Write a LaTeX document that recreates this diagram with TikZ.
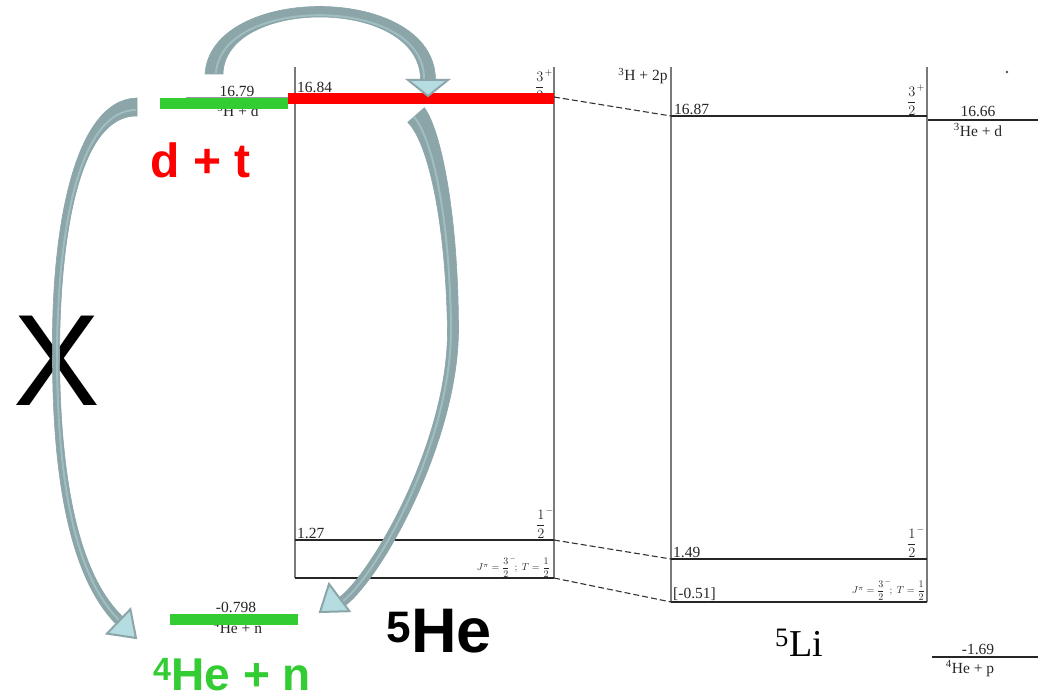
\documentclass[tikz,border=0pt]{standalone}
\usepackage{fontspec}
\setmainfont{Liberation Serif}
\newfontfamily\arialf{Liberation Sans}
\definecolor{arrdark}{HTML}{8BA5A9}
\definecolor{arrhi}{HTML}{A0BEC1}
\definecolor{arrlight}{HTML}{B5DCE1}
\definecolor{lvgreen}{HTML}{33CC33}
\definecolor{lvred}{HTML}{FF0000}
\definecolor{wallgray}{HTML}{7A7A7A}
\tikzset{
 lvl/.style={line width=1.3pt, draw=black!85},
 wall/.style={line width=1.1pt, draw=wallgray},
 dashconn/.style={line width=1.1pt, draw=black!80, dash pattern=on 6pt off 3pt},
 num/.style={font=\fontsize{15.5}{15.5}\selectfont, text=black!85, inner sep=0pt},
 fr/.style={font=\fontsize{14}{14}\selectfont, text=black!85, inner sep=0pt},
 jp/.style={font=\fontsize{10}{10}\selectfont, text=black!85, inner sep=0pt},
 bar/.style={line width=11.5pt},
 big/.style={inner sep=0pt, font=\arialf\bfseries\fontsize{48}{48}\selectfont},
 shaft/.style={fill=arrdark, draw=arrdark, line width=0.6pt},
 hil/.style={draw=arrhi, line width=2pt},
 head/.style={fill=arrlight, draw=arrdark, line width=2pt, line join=miter},
}
\begin{document}
\begin{tikzpicture}[x=1pt,y=-1pt]
\useasboundingbox[fill=white] (0,0) rectangle (1041,698);

% ---------------- level diagram (cropped at the top) ----------------
\begin{scope}
\clip (280,68) rectangle (1041,698);
% 5He frame
\coordinate (heTL) at (295,60);   \coordinate (heTR) at (554,60);
\coordinate (heTopL) at (288,97); \coordinate (heTopR) at (554,97);
\coordinate (heMidL) at (295,540); \coordinate (heMidR) at (554,540);
\coordinate (heBotL) at (295,578); \coordinate (heBotR) at (554,578);
\draw[wall] (heTL) -- (heBotL);
\draw[wall] (heTR) -- (heBotR);
\draw[lvl] (heTopL) -- (heTopR);
\draw[lvl] (heMidL) -- (heMidR);
\draw[lvl] (heBotL) -- (heBotR);
% 5Li frame
\coordinate (liTL) at (671,60);   \coordinate (liTR) at (927,60);
\coordinate (liTopL) at (671,116); \coordinate (liTopR) at (927,116);
\coordinate (liMidL) at (671,559); \coordinate (liMidR) at (927,559);
\coordinate (liBotL) at (671,602); \coordinate (liBotR) at (927,602);
\draw[wall] (liTL) -- (liBotL);
\draw[wall] (liTR) -- (liBotR);
\draw[lvl] (liTopL) -- (liTopR);
\draw[lvl] (liMidL) -- (liMidR);
\draw[lvl] (liBotL) -- (liBotR);
% dashed correspondences
\draw[dashconn] (heTopR) -- (liTopL);
\draw[dashconn] (heMidR) -- (liMidL);
\draw[dashconn] (heBotR) -- (liBotL);
% thresholds on the right
\coordinate (hedL) at (928,120); \coordinate (hedR) at (1038,120);
\draw[lvl] (hedL) -- (hedR);
\coordinate (hepL) at (932,657); \coordinate (hepR) at (1038,657);
\draw[lvl] (hepL) -- (hepR);
\fill[black!70] (1007,72) circle (1.3pt);

% labels
\node[num, anchor=base west] (n1684) at (297,93) {16.84};
\node[fr, anchor=south east] (f5heTop) at (553,101) {$\displaystyle\frac{3}{2}^{+}$};
\node[num, anchor=base] (n3h2p) at (643,81) {\textsuperscript{3}H + 2p};
\node[num, anchor=base west] (n127) at (297,538) {1.27};
\node[fr, anchor=south east] (f5heMid) at (554,539) {$\displaystyle\frac{1}{2}^{-}$};
\node[jp, anchor=south east] (j5he) at (550,578) {$J^{\pi}=\displaystyle\frac{3}{2}^{-}\!;\;T=\frac{1}{2}$};
\node[num, anchor=base west] (n1687) at (674,115) {16.87};
\node[fr, anchor=south east] (f5liTop) at (925,116) {$\displaystyle\frac{3}{2}^{+}$};
\node[num, anchor=base west] (n149) at (673,557) {1.49};
\node[fr, anchor=south east] (f5liMid) at (925,558) {$\displaystyle\frac{1}{2}^{-}$};
\node[num, anchor=base west] (n051) at (673,598) {[-0.51]};
\node[jp, anchor=south east] (j5li) at (925,601) {$J^{\pi}=\displaystyle\frac{3}{2}^{-}\!;\;T=\frac{1}{2}$};
\node[num, anchor=base] (n1666) at (978,117) {16.66};
\node[num, anchor=base] (n3hed) at (978,136) {\textsuperscript{3}He + d};
\node[num, anchor=base] (n169) at (978,654) {-1.69};
\node[num, anchor=base] (n4hep) at (970,673) {\textsuperscript{4}He + p};
\node[inner sep=0pt, anchor=base, font=\fontsize{38}{38}\selectfont] (li5) at (799,656) {\textsuperscript{5}Li};
\end{scope}

% ---------------- left thresholds ----------------
\draw[black!40, line width=0.8pt] (186,97.5) -- (288,97.5);
\node[num, anchor=base] (n1679) at (237,96.5) {16.79};
\node[num, anchor=base] (n3hd) at (238,117) {\textsuperscript{3}H + d};
\node[num, anchor=base] (n0798) at (236,612) {-0.798};
\node[num, anchor=base] (n4hen) at (238,633) {\textsuperscript{4}He + n};

\coordinate (gTopL) at (160,103.5); \coordinate (gTopR) at (288,103.5);
\coordinate (rTopL) at (288,98.5);  \coordinate (rTopR) at (554,98.5);
\coordinate (gBotL) at (170,619.5); \coordinate (gBotR) at (298,619.5);
\draw[bar, lvgreen] (gTopL) -- (gTopR);
\draw[bar, lvred] (rTopL) -- (rTopR);
\draw[bar, lvgreen] (gBotL) -- (gBotR);

% ---------------- big labels ----------------
\node[big, text=lvred, anchor=base] (dt) at (201,177) {d + t};
\node[big, text=lvgreen, anchor=base, font=\arialf\bfseries\fontsize{46}{46}\selectfont] (hen) at (232,690) {\textsuperscript{4}He + n};
\node[big, text=black, anchor=base, font=\arialf\bfseries\fontsize{63}{63}\selectfont] (he5) at (439,652) {\textsuperscript{5}He};
\node[inner sep=0pt, anchor=base, font=\arialf\fontsize{130}{130}\selectfont] (xx) at (57,405) {X};

% ---------------- curved block arrows ----------------
% top arrow: 16.79 -> 16.84
\fill[shaft] (205,74) .. controls (211,-17) and (435,-17) .. (435.5,80) -- (420.5,80) .. controls (421,-3) and (225,-3) .. (223,74) -- cycle;
\draw[hil] (216,73) .. controls (221,-5) and (425,-5) .. (424,79);
\draw[head] (408,80) -- (448,80) -- (428,96) -- cycle;
% left arrow: d+t -> 4He+n (forbidden)
\fill[shaft] (137,98) .. controls (77,99) and (50.5,219) .. (52.5,360) .. controls (53,520) and (83.4,590.3) .. (115.5,623.5) -- (122.5,616.5) .. controls (91.6,586.7) and (61,520) .. (59.5,360) .. controls (59.5,221) and (83,115) .. (137,116) -- cycle;
\draw[hil] (136,110) .. controls (82,110) and (57,220) .. (57,360) .. controls (58,520) and (87.5,588.5) .. (119,620);
\draw[head] (107,633.6) -- (130.4,609.2) -- (136,638) -- cycle;
% right arrow: 16.84 -> 4He+n
\fill[shaft] (407.8,122.3) .. controls (428.2,142.9) and (445.6,221.3) .. (447.5,330) .. controls (448,440) and (374.2,569.3) .. (340,597) -- (346,605) .. controls (383.8,574.7) and (458,440) .. (458.5,330) .. controls (458.4,218.7) and (441.8,131.1) .. (424.3,107.7) -- cycle;
\draw[hil] (414,117) .. controls (433,139) and (450,220) .. (451,330) .. controls (451,440) and (379,572) .. (343,601);
\draw[head] (329,584) -- (349.4,611.2) -- (320,612) -- cycle;
\end{tikzpicture}
\end{document}
